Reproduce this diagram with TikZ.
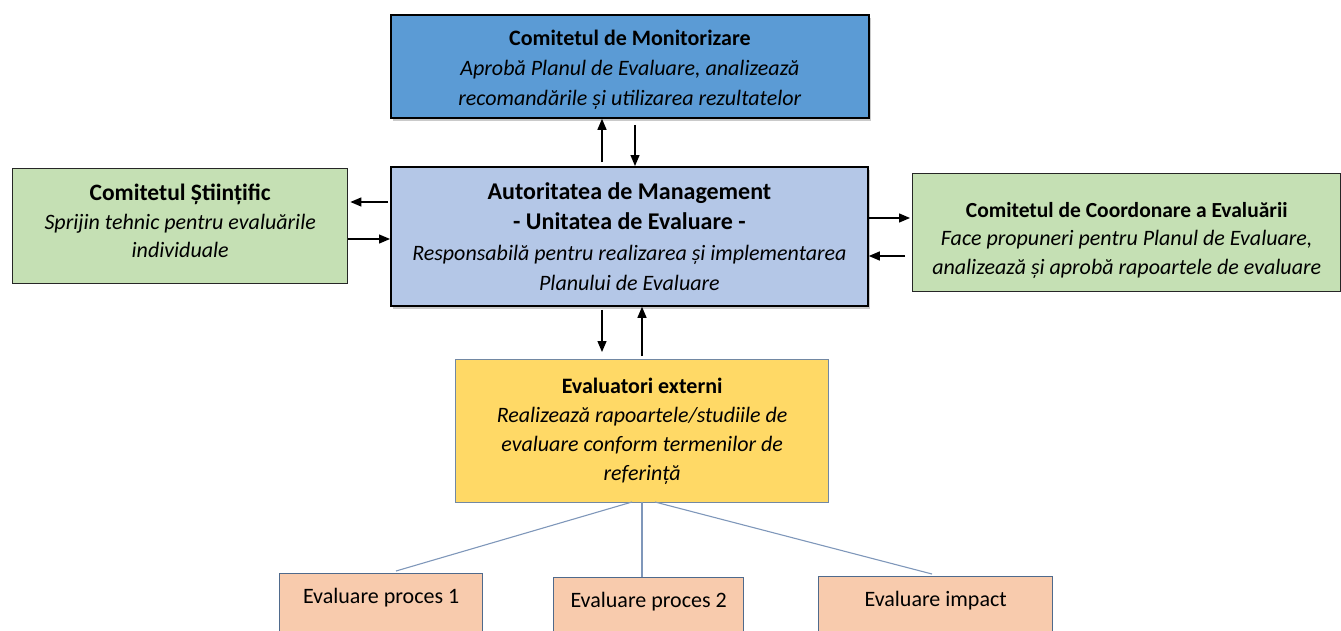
\documentclass[tikz,border=0pt]{standalone}
\usepackage{fontspec}
\setmainfont{Carlito}
\usetikzlibrary{arrows.meta,shadows,calc}
\definecolor{monblue}{HTML}{5B9BD5}
\definecolor{amblue}{HTML}{B4C7E7}
\definecolor{greenbox}{HTML}{C5E0B4}
\definecolor{yellowbox}{HTML}{FFD966}
\definecolor{salmonbox}{HTML}{F8CBAD}
\definecolor{edgeblue}{HTML}{4F6A8C}
\definecolor{linkblue}{HTML}{7F97BA}
\newcommand{\bigtitle}[1]{{\fontsize{24}{30}\selectfont\bfseries #1}}
\newcommand{\midtitle}[1]{{\fontsize{23.5}{30}\selectfont\bfseries #1}}
\begin{document}
\begin{tikzpicture}[x=1pt,y=-1pt,
  txt/.style={font=\fontsize{22}{30}\selectfont, align=center, text=black},
  boxbase/.style={txt, rectangle, anchor=north west, inner sep=0pt},
  strongbox/.style={boxbase, draw=black, line width=1.8pt,
     drop shadow={shadow xshift=2pt, shadow yshift=-3pt, opacity=0.35, fill=black!60}},
  greenstyle/.style={boxbase, draw=black!85, line width=1.4pt, fill=greenbox},
  extbox/.style={boxbase, draw=edgeblue!80, line width=1.3pt, fill=yellowbox},
  evalbox/.style={boxbase, draw=edgeblue, line width=1.3pt, fill=salmonbox},
  arr/.style={line width=1.3pt, -{Triangle[length=11pt,width=9pt]}},
  link/.style={draw=linkblue, line width=1.1pt}
]
\useasboundingbox (0,0) rectangle (1341,630);
\clip (0,0) rectangle (1341,630);

% Monitoring committee
\node[strongbox, fill=monblue, minimum width=478pt, minimum height=103pt] (mon) at (390,14)
  {\mbox{}\\[-8pt]
   \textbf{Comitetul de Monitorizare}\\[0pt]
   \textit{Aprobă Planul de Evaluare, analizează}\\
   \textit{recomandările și utilizarea rezultatelor}};

% Managing authority
\node[strongbox, fill=amblue, minimum width=477pt, minimum height=139pt] (am) at (390,166)
  {\bigtitle{Autoritatea de Management}\\
   \bigtitle{- Unitatea de Evaluare -}\\[1pt]
   \textit{Responsabilă pentru realizarea și implementarea}\\
   \textit{Planului de Evaluare}};

% Scientific committee
\node[greenstyle, minimum width=335pt, minimum height=115pt] (sci) at (12,168)
  {\midtitle{Comitetul Științific}\\[-1pt]
   \textit{Sprijin tehnic pentru evaluările}\\[-2pt]
   \textit{individuale}\\[-19pt]\mbox{}};

% Coordination committee
\node[greenstyle, minimum width=428pt, minimum height=118pt] (coord) at (912,173)
  {\mbox{}\\[0pt]
   {\fontsize{21.5}{30}\selectfont\bfseries Comitetul de Coordonare a Evaluării}\\[-2pt]
   \textit{Face propuneri pentru Planul de Evaluare,}\\[-1pt]
   \textit{analizează și aprobă rapoartele de evaluare}};

% External evaluators
\node[extbox, minimum width=373pt, minimum height=143pt] (ext) at (455,359)
  {\textbf{Evaluatori externi}\\[-1pt]
   \textit{Realizează rapoartele/studiile de}\\[-1pt]
   \textit{evaluare conform termenilor de}\\[-1pt]
   \textit{referință}};

% Evaluation boxes
\node[evalbox, minimum width=203pt, minimum height=90pt] (p1) at (279,573) {};
\node[txt] at ($(p1.north)+(0,25)$) {Evaluare proces 1};
\node[evalbox, minimum width=190pt, minimum height=90pt] (p2) at (553,577) {};
\node[txt] at ($(p2.north)+(0,25)$) {Evaluare proces 2};
\node[evalbox, minimum width=234pt, minimum height=90pt] (p3) at (818,576) {};
\node[txt] at ($(p3.north)+(0,25)$) {Evaluare impact};

% Arrow positions
\coordinate (xmu) at (602,0);
\coordinate (xmd) at (635,0);
\coordinate (ylo) at (0,202);
\coordinate (yli) at (0,239);
\coordinate (yro) at (0,218);
\coordinate (yri) at (0,256);
\coordinate (xed) at (602,0);
\coordinate (xeu) at (642,0);

% AM <-> Monitoring
\draw[arr, shorten <=4pt] (am.north -| xmu) -- (mon.south -| xmu);
\draw[arr, shorten <=6pt] (mon.south -| xmd) -- (am.north -| xmd);

% AM <-> Scientific
\draw[arr, shorten <=2pt, shorten >=2pt] (am.west |- ylo) -- (sci.east |- ylo);
\draw[arr] (sci.east |- yli) -- (am.west |- yli);

% AM <-> Coordination
\draw[arr, shorten >=2pt] (am.east |- yro) -- (coord.west |- yro);
\draw[arr, shorten <=7pt] (coord.west |- yri) -- (am.east |- yri);

% AM <-> External
\draw[arr, shorten <=3pt, shorten >=7pt] (am.south -| xed) -- (ext.north -| xed);
\draw[arr, shorten <=3pt] (ext.north -| xeu) -- (am.south -| xeu);

% External -> evaluation boxes
\coordinate (s1) at (632,502);
\coordinate (s2) at (642,502);
\coordinate (s3) at (655,502);
\coordinate (e1) at (396,0);
\coordinate (e2) at (642,0);
\coordinate (e3) at (932,0);
\draw[link] (s1) -- ($(p1.north -| e1)+(0,-2)$);
\draw[link] (s2) -- (p2.north -| e2);
\draw[link] (s3) -- ($(p3.north -| e3)+(0,-2)$);
\end{tikzpicture}
\end{document}
